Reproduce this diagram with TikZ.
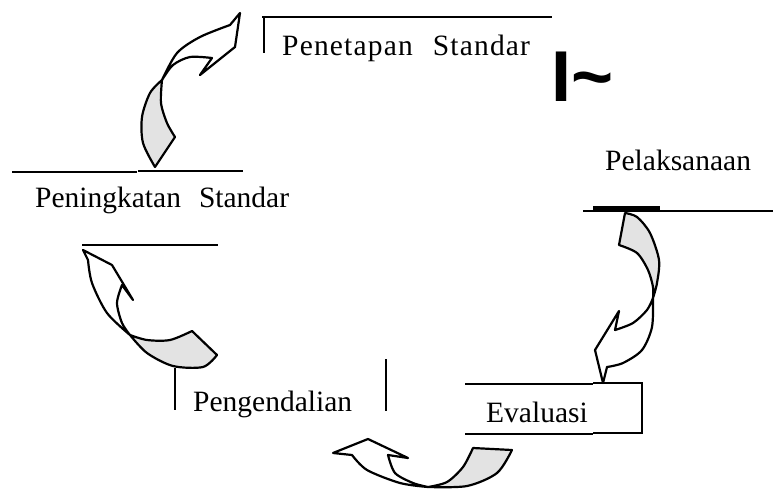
\documentclass[tikz,border=0pt]{standalone}
\usepackage{fontspec}
\setmainfont{Liberation Serif}
\setsansfont{Liberation Sans}
\newfontfamily\spacedserif[LetterSpace=4]{Liberation Serif}
\begin{document}
\begin{tikzpicture}[x=1pt,y=-1pt,
  lbl/.style={anchor=base west, inner sep=0pt, font=\fontsize{29.5}{34}\selectfont},
  rulethick/.style={line width=2.6pt},
  rulethin/.style={line width=1.4pt},
  arrowline/.style={line width=2.2pt, line join=round},
  tailfill/.style={fill=gray!22, draw=none}]
\useasboundingbox (0,0) rectangle (773,490);

% ---------- texts ----------
\node[lbl, font=\spacedserif\fontsize{29.5}{34}\selectfont] (penetapan) at (282,55) {Penetapan\hspace{20pt}Standar};
\node[lbl] (pelaksanaan) at (605,170) {Pelaksanaan};
\node[lbl] (peningkatan) at (35,207) {Peningkatan\hspace{18pt}Standar};
\node[lbl] (pengendalian) at (193,411) {Pengendalian};
\node[lbl] (evaluasi) at (486,422) {Evaluasi};
\node[anchor=base west, inner sep=0pt, font=\sffamily\bfseries\fontsize{72}{80}\selectfont] (mark) at (551,101) {I\textasciitilde};

% ---------- rules ----------
\draw[rulethick] (262,17) -- (552,17);
\draw[rulethin] (264,17) -- (264,53);
\draw[rulethick] (583,211) -- (773,211);
\draw[line width=4pt] (593,208) -- (660,208);
\draw[rulethick] (12,172) -- (137,172);
\draw[rulethick] (138,171) -- (243,171);
\draw[rulethick] (82,245) -- (218,245);
\draw[rulethin] (175,368) -- (175,410);
\draw[rulethin] (386,359) -- (386,411);
\draw[rulethick] (465,384) -- (593,384);
\draw[rulethick] (465,434) -- (593,434);
\draw[rulethick] (593,383) -- (642,383) -- (642,433) -- (593,433);

% ---------- top-left arrow ----------
\fill[tailfill] plot[smooth] coordinates {(155,167) (143,143) (142,117) (150,93) (162,80)}
  -- plot[smooth] coordinates {(162,80) (161,103) (167,123) (175,137)} -- cycle;
\draw[arrowline] plot[smooth] coordinates {(155,167) (143,143) (142,117) (150,93) (162,80)}
  -- plot[smooth] coordinates {(162,80) (177,53) (200,37) (230,25)}
  -- (240,13) -- (235,47) -- (200,75) -- (212,58)
  -- plot[smooth] coordinates {(212,58) (190,57) (173,65) (162,80)}
  -- plot[smooth] coordinates {(162,80) (161,103) (167,123) (175,137)} -- cycle;

% ---------- right arrow ----------
\fill[tailfill] plot[smooth] coordinates {(625,213) (637,217) (650,233) (659,260) (657,283) (653,298)}
  -- plot[smooth] coordinates {(653,298) (653,287) (648,270) (637,253) (619,245)} -- cycle;
\draw[arrowline] plot[smooth] coordinates {(625,213) (637,217) (650,233) (659,260) (657,283) (653,298)}
  -- plot[smooth] coordinates {(653,298) (652,327) (642,350) (623,363) (607,367)}
  -- (603,383) -- (595,350) -- (619,311) -- (615,330)
  -- plot[smooth] coordinates {(615,330) (633,323) (647,310) (653,298)}
  -- plot[smooth] coordinates {(653,298) (653,287) (648,270) (637,253) (619,245)} -- cycle;

% ---------- bottom-left arrow ----------
\fill[tailfill] (192,331) -- (217,355)
  -- plot[smooth] coordinates {(217,355) (203,367) (173,366) (147,353) (130,335)}
  -- plot[smooth] coordinates {(130,335) (147,340) (170,340) (192,331)} -- cycle;
\draw[arrowline] (192,331) -- (217,355)
  -- plot[smooth] coordinates {(217,355) (203,367) (173,366) (147,353) (130,335)}
  -- plot[smooth] coordinates {(130,335) (107,313) (92,283) (88,260)}
  -- (83,250) -- (112,265) -- (133,300) -- (122,285)
  -- plot[smooth] coordinates {(122,285) (117,303) (122,323) (130,335)}
  -- plot[smooth] coordinates {(130,335) (147,340) (170,340) (192,331)} -- cycle;

% ---------- bottom arrow ----------
\fill[tailfill] (473,448) -- (512,450)
  -- plot[smooth] coordinates {(512,450) (497,473) (467,486) (428,487)}
  -- plot[smooth] coordinates {(428,487) (447,482) (463,467) (473,448)} -- cycle;
\draw[arrowline] (473,448) -- (512,450)
  -- plot[smooth] coordinates {(512,450) (497,473) (467,486) (428,487)}
  -- plot[smooth] coordinates {(428,487) (400,483) (367,470) (352,455)}
  -- (333,453) -- (368,439) -- (408,458) -- (388,455)
  -- plot[smooth] coordinates {(388,455) (395,473) (413,483) (428,487)}
  -- plot[smooth] coordinates {(428,487) (447,482) (463,467) (473,448)} -- cycle;
\end{tikzpicture}
\end{document}
